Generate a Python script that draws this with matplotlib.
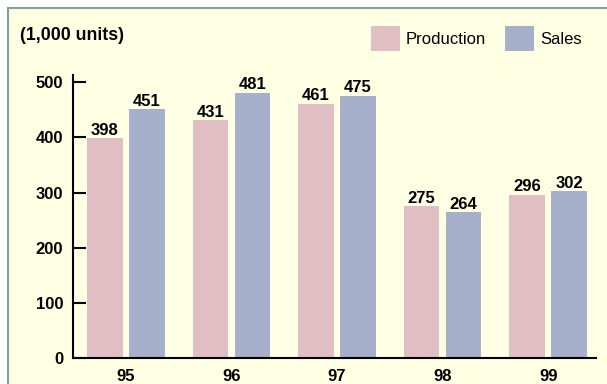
import numpy as np
import matplotlib
matplotlib.use("Agg")
import matplotlib.pyplot as plt
from matplotlib.patches import Rectangle, Patch

years = ["95", "96", "97", "98", "99"]
production = [398, 431, 461, 275, 296]
sales = [451, 481, 475, 264, 302]
y_ticks = [0, 100, 200, 300, 400, 500]

prod_color = "#E0BEC4"
sales_color = "#A6B0CA"
panel_color = "#FFFFE4"
frame_color = "#7FA398"

plt.rcParams["font.family"] = ["Liberation Sans", "DejaVu Sans"]

W, H = 607, 384
fig = plt.figure(figsize=(W / 100, H / 100), dpi=100)
fig.patch.set_facecolor("white")

# pale yellow panel with a thin frame, running off the right/bottom edge
bg = fig.add_axes([0, 0, 1, 1], zorder=-1)
bg.set_axis_off()
bg.add_patch(Rectangle((8 / W, -0.05), 1.1, (H - 8) / H + 0.05,
                       transform=bg.transAxes, facecolor=panel_color,
                       edgecolor=frame_color, linewidth=1.5, clip_on=False))

ax = fig.add_axes([73 / W, (H - 358) / H, (595.7 - 73) / W, (358 - 75) / H])
ax.set_facecolor("none")

x = np.arange(len(years))
off, bw = 0.199, 0.337
b1 = ax.bar(x - off, production, bw, color=prod_color, zorder=2)
b2 = ax.bar(x + off, sales, bw, color=sales_color, zorder=2)

for bars, vals in ((b1, production), (b2, sales)):
    for rect, v in zip(bars, vals):
        ax.annotate(str(v), (rect.get_x() + rect.get_width() / 2, v),
                    xytext=(0, 2.5), textcoords="offset points",
                    ha="center", va="baseline", fontsize=12,
                    fontweight="bold")

ax.set_xlim(-0.5, 4.45)
ax.set_ylim(0, 513)
ax.set_yticks(y_ticks)
ax.set_xticks(x)
ax.set_xticklabels(years)

for s in ("top", "right"):
    ax.spines[s].set_visible(False)
for s in ("left", "bottom"):
    ax.spines[s].set_linewidth(1.5)
    ax.spines[s].set_color("black")

ax.tick_params(axis="y", direction="in", length=9, width=1.5, pad=7,
               labelsize=12)
ax.tick_params(axis="x", length=0, pad=8, labelsize=12)
for lab in ax.get_xticklabels() + ax.get_yticklabels():
    lab.set_fontweight("bold")

fig.text(20 / W, (H - 35) / H, "(1,000 units)", fontsize=12.8,
         fontweight="bold", va="center", ha="left")

handles = [Patch(facecolor=prod_color, label="Production"),
           Patch(facecolor=sales_color, label="Sales")]
fig.legend(handles=handles, loc="center left",
           bbox_to_anchor=(371 / W, (H - 38.5) / H), ncol=2, frameon=False,
           fontsize=12, handlelength=1.74, handleheight=1.9,
           handletextpad=0.36, columnspacing=1.14, borderpad=0,
           borderaxespad=0)

fig.savefig("out.png", dpi=100, facecolor=fig.get_facecolor())
